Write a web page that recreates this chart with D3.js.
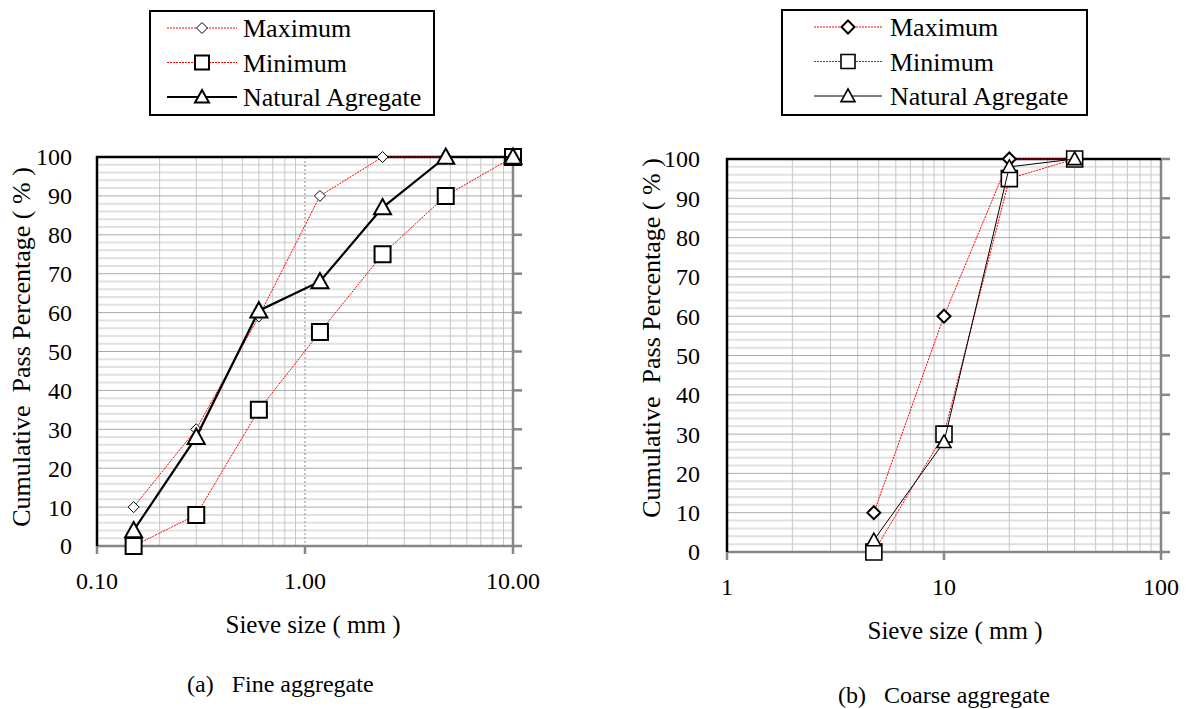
<!DOCTYPE html>
<html>
<head>
<meta charset="utf-8">
<script src="https://cdn.jsdelivr.net/npm/d3@7"></script>
</head>
<body style="margin:0">
<svg id="fig" width="1192" height="709"></svg>
<script>
// sieve sizes (mm) and cumulative pass percentages
const fineSieve = [0.15, 0.3, 0.6, 1.18, 2.36, 4.75, 10];
const fineMax = [10, 30, 59, 90, 100, 100, 100];
const fineMin = [0, 8, 35, 55, 75, 90, 100];
const fineNatural = [4, 28, 60.5, 68, 87, 100, 100];

const coarseSieve = [4.75, 10, 20, 40];
const coarseMax = [10, 60, 100, 100];
const coarseMin = [0, 30, 95, 100];
const coarseNatural = [3, 28, 98, 100];

const yTicks = [0, 10, 20, 30, 40, 50, 60, 70, 80, 90, 100];
const fineXTicks = [0.1, 1, 10];
const fineXLabels = ['0.10', '1.00', '10.00'];
const coarseXTicks = [1, 10, 100];
const coarseXLabels = ['1', '10', '100'];
const seriesNames = ['Maximum', 'Minimum', 'Natural Agregate'];

const svg = d3.select('#fig');

// marker path centred on 0,0
function markerPath(type, s) {
  const h = s / 2;
  if (type === 'diamond') return `M0,${-h}L${h},0L0,${h}L${-h},0Z`;
  if (type === 'square') return `M${-h},${-h}H${h}V${h}H${-h}Z`;
  return `M0,${-h}L${h},${h * 0.8}L${-h},${h * 0.8}Z`;
}

function label(sel, size) {
  return sel.style('font-family', '"Times New Roman", "Liberation Serif", Tinos, serif')
    .attr('font-size', size);
}

function drawChart(cfg) {
  const g = svg.append('g');
  const x = d3.scaleLog().domain(cfg.xDomain).range([cfg.left, cfg.right]);
  const y = d3.scaleLinear().domain([0, 100]).range([cfg.bottom, cfg.top]);

  // minor horizontal gridlines every 2 %
  const minorY = d3.range(2, 100, 2).filter(v => v % 10 !== 0);
  g.selectAll('.hminor').data(minorY).join('line')
    .attr('x1', cfg.left).attr('x2', cfg.right)
    .attr('y1', d => y(d)).attr('y2', d => y(d))
    .attr('stroke', '#e1e1e1').attr('stroke-width', 2);

  // vertical log gridlines
  const vLines = [];
  for (let k = Math.log10(cfg.xDomain[0]); k < Math.log10(cfg.xDomain[1]); k++) {
    for (let m = 2; m <= 9; m++) vLines.push(m * Math.pow(10, k));
  }
  g.selectAll('.vminor').data(vLines).join('line')
    .attr('x1', d => x(d)).attr('x2', d => x(d))
    .attr('y1', cfg.top).attr('y2', cfg.bottom)
    .attr('stroke', '#c6c6c6').attr('stroke-width', 1);

  const midTicks = cfg.xTicks.slice(1, -1);
  g.selectAll('.vmajor').data(midTicks).join('line')
    .attr('x1', d => x(d)).attr('x2', d => x(d))
    .attr('y1', cfg.top).attr('y2', cfg.bottom)
    .attr('stroke', cfg.dottedMid ? '#8c8c8c' : '#c6c6c6')
    .attr('stroke-width', 1)
    .attr('stroke-dasharray', cfg.dottedMid ? '2,2' : null);

  // major horizontal gridlines
  g.selectAll('.hmajor').data(yTicks.slice(1, -1)).join('line')
    .attr('x1', cfg.left).attr('x2', cfg.right)
    .attr('y1', d => y(d)).attr('y2', d => y(d))
    .attr('stroke', '#aaaaaa').attr('stroke-width', 1);

  // grey axes (bottom + right) with outward ticks
  g.append('line').attr('x1', cfg.left).attr('x2', cfg.right + 1)
    .attr('y1', cfg.bottom).attr('y2', cfg.bottom)
    .attr('stroke', '#868686').attr('stroke-width', 2.5);
  g.append('line').attr('x1', cfg.right).attr('x2', cfg.right)
    .attr('y1', cfg.top).attr('y2', cfg.bottom)
    .attr('stroke', '#868686').attr('stroke-width', 2.5);
  g.selectAll('.xtick').data(cfg.xTicks).join('line')
    .attr('x1', d => x(d)).attr('x2', d => x(d))
    .attr('y1', cfg.bottom).attr('y2', cfg.bottom + 8)
    .attr('stroke', '#868686').attr('stroke-width', 2.5);
  g.selectAll('.ytick').data(yTicks).join('line')
    .attr('x1', cfg.right).attr('x2', cfg.right + 9)
    .attr('y1', d => y(d)).attr('y2', d => y(d))
    .attr('stroke', '#868686').attr('stroke-width', 2.5);

  // black left + top borders
  g.append('path')
    .attr('d', `M${cfg.left},${cfg.bottom}V${cfg.top}H${cfg.right}`)
    .attr('fill', 'none').attr('stroke', '#000').attr('stroke-width', 2.5);

  // tick labels
  label(g.selectAll('.ylab').data(yTicks).join('text'), 24)
    .attr('x', cfg.left - cfg.yLabelGap).attr('y', d => y(d))
    .attr('dy', '0.35em').attr('text-anchor', 'end')
    .text(d => d);
  label(g.selectAll('.xlab').data(cfg.xTicks).join('text'), 24)
    .attr('x', d => x(d)).attr('y', cfg.bottom + 43)
    .attr('text-anchor', 'middle')
    .text((d, i) => cfg.xLabels[i]);

  // axis titles
  label(g.append('text'), 25)
    .attr('x', (cfg.left + cfg.right) / 2 + cfg.xTitleShift).attr('y', cfg.bottom + 87)
    .attr('text-anchor', 'middle')
    .text('Sieve size ( mm )');
  label(g.append('text'), 26)
    .attr('transform', `translate(${cfg.yTitleX},${cfg.yTitleY}) rotate(-90)`)
    .attr('text-anchor', 'middle')
    .text('Cumulative\u00a0 Pass Percentage ( % )');

  // series
  const series = [
    { name: seriesNames[0], vals: cfg.max, line: 'red', dash: '2,1', lw: 1, shape: 'diamond', ms: cfg.maxSize, mw: cfg.maxStroke },
    { name: seriesNames[1], vals: cfg.min, line: 'red', dash: '2,1', lw: 1, shape: 'square', ms: 16, mw: cfg.sqStroke },
    { name: seriesNames[2], vals: cfg.nat, line: '#000', dash: null, lw: cfg.natWidth, shape: 'triangle', ms: cfg.triSize, mw: cfg.triStroke }
  ];
  const line = d3.line().x(d => x(d[0])).y(d => y(d[1]));
  series.forEach(s => {
    const pts = cfg.sieve.map((v, i) => [v, s.vals[i]]);
    g.append('path').datum(pts).attr('d', line)
      .attr('fill', 'none').attr('stroke', s.line)
      .attr('stroke-width', s.lw).attr('stroke-dasharray', s.dash);
    g.selectAll(null).data(pts).join('path')
      .attr('transform', d => `translate(${x(d[0])},${y(d[1])})`)
      .attr('d', markerPath(s.shape, s.ms))
      .attr('fill', '#fff').attr('stroke', '#000').attr('stroke-width', s.mw);
  });

  // legend
  const lg = cfg.legend;
  g.append('rect').attr('x', lg.x).attr('y', lg.y).attr('width', lg.w).attr('height', lg.h)
    .attr('fill', '#fff').attr('stroke', '#000').attr('stroke-width', 2);
  series.forEach((s, i) => {
    const ly = lg.y + 17 + i * 34.5;
    g.append('line').attr('x1', lg.lineX0).attr('x2', lg.lineX1).attr('y1', ly).attr('y2', ly)
      .attr('stroke', s.line).attr('stroke-width', s.lw).attr('stroke-dasharray', s.dash);
    g.append('path')
      .attr('transform', `translate(${(lg.lineX0 + lg.lineX1) / 2},${ly})`)
      .attr('d', markerPath(s.shape, Math.min(s.ms, 14)))
      .attr('fill', '#fff').attr('stroke', '#000').attr('stroke-width', s.mw);
    label(g.append('text'), 26).attr('x', lg.textX).attr('y', ly).attr('dy', '0.35em')
      .text(s.name);
  });

  // caption
  label(g.append('text'), 24).attr('x', cfg.caption.x).attr('y', cfg.caption.y)
    .text(cfg.caption.text);
}

drawChart({
  left: 97, right: 513, top: 157, bottom: 546,
  xDomain: [0.1, 10], xTicks: fineXTicks, xLabels: fineXLabels, dottedMid: true,
  sieve: fineSieve, max: fineMax, min: fineMin, nat: fineNatural,
  maxSize: 11, maxStroke: 1, sqStroke: 2, triSize: 17, triStroke: 2, natWidth: 2.2,
  yLabelGap: 25, xTitleShift: 8, yTitleX: 30, yTitleY: 347,
  legend: { x: 150, y: 11, w: 284, h: 104, lineX0: 167, lineX1: 237, textX: 243 },
  caption: { x: 187, y: 692, text: '(a)\u00a0\u00a0 Fine aggregate' }
});

drawChart({
  left: 727, right: 1161, top: 159, bottom: 552,
  xDomain: [1, 100], xTicks: coarseXTicks, xLabels: coarseXLabels, dottedMid: false,
  sieve: coarseSieve, max: coarseMax, min: coarseMin, nat: coarseNatural,
  maxSize: 13, maxStroke: 2, sqStroke: 1.6, triSize: 14, triStroke: 1.6, natWidth: 1,
  yLabelGap: 27, xTitleShift: 11, yTitleX: 660, yTitleY: 338,
  legend: { x: 782, y: 10, w: 305, h: 105, lineX0: 814, lineX1: 882, textX: 890 },
  caption: { x: 838, y: 703, text: '(b)\u00a0\u00a0 Coarse aggregate' }
});
</script>
</body>
</html>
